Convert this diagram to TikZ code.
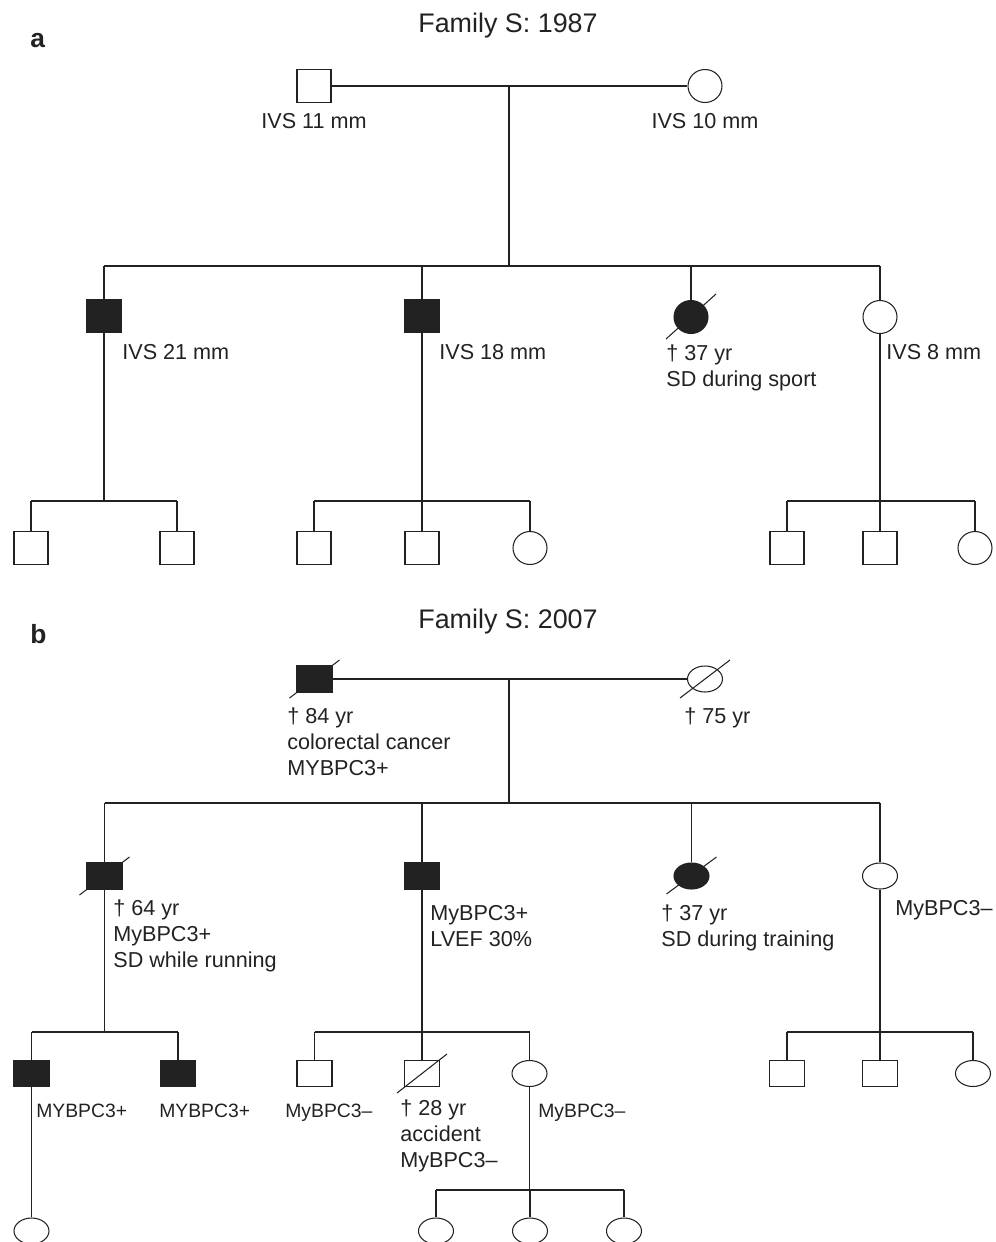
\documentclass[tikz,border=0pt]{standalone}
\usepackage{fontspec}
\setmainfont{Liberation Sans}
\usetikzlibrary{shapes.geometric}
\definecolor{ink}{RGB}{34,34,34}

\begin{document}
\begin{tikzpicture}[x=0.02cm,y=-0.02cm,
	pline/.style={draw=ink,line width=0.6pt},
	males/.style={rectangle,draw=ink,line width=0.6pt,inner sep=0pt,minimum width=0.68cm,minimum height=0.66cm},
	females/.style={ellipse,draw=ink,line width=0.6pt,inner sep=0pt,minimum width=0.68cm,minimum height=0.66cm},
	flat/.style={minimum width=0.70cm,minimum height=0.52cm},
	affected/.style={fill=ink},
	lbl/.style={anchor=base west,inner sep=0pt,text=ink,align=left,font=\fontsize{12.3}{14.8}\selectfont},
	small/.style={font=\fontsize{11}{13}\selectfont},
	title/.style={anchor=base,inner sep=0pt,text=ink,font=\fontsize{15.3}{18}\selectfont},
	panel/.style={anchor=base west,inner sep=0pt,text=ink,font=\fontsize{15}{18}\selectfont\bfseries}]
	\useasboundingbox (0,0) rectangle (996,1242);
	\clip (0,0) rectangle (996,1242);
	
	% ---- panel a : 1987
	\node[panel] (labA) at (30,47) {a};
	\node[title] (titA) at (508,32) {Family S: 1987};
	
	\node[males] (aF) at (314,86) {};
	\node[females] (aM) at (705,86) {};
	\node[lbl,anchor=base] (aFl) at (314,128) {IVS 11 mm};
	\node[lbl,anchor=base] (aMl) at (705,128) {IVS 10 mm};
	\coordinate (aC) at (509,86);
	\coordinate (aS) at (509,266);
	\draw[pline] (aF) -- (aM);
	\draw[pline] (aC) -- (aS);
	
	\node[males,affected] (aII1) at (104,316) {};
	\node[males,affected] (aII2) at (422,316) {};
	\node[females,affected] (aII3) at (691,317) {};
	\node[females] (aII4) at (880,317) {};
	\draw[pline] (aII1 |- aS) -- (aII4 |- aS);
	\foreach \n in {aII1,aII2,aII3,aII4}{% drop lines to the sibs
		\draw[pline] (\n |- aS) -- (\n);
	}
	\draw[pline] ([shift={(-25,22)}]aII3.center) -- ([shift={(25,-23)}]aII3.center);
	% multi-line labels sit on the baseline of their last line
	\node[lbl] (aII1l) at (122,359) {IVS 21 mm};
	\node[lbl] (aII2l) at (439,359) {IVS 18 mm};
	\node[lbl] (aII3l) at (666,386) {† 37 yr\\SD during sport};
	\node[lbl] (aII4l) at (886,359) {IVS 8 mm};
	
	\coordinate (aS1) at (104,501);
	\coordinate (aS2) at (422,501);
	\coordinate (aS4) at (880,501);
	\draw[pline] (aII1) -- (aS1);
	\draw[pline] (aII2) -- (aS2);
	\draw[pline] (aII4) -- (aS4);
	
	\node[males] (aIII1) at (31,548) {};
	\node[males] (aIII2) at (177,548) {};
	\node[males] (aIII3) at (314,548) {};
	\node[males] (aIII4) at (422,548) {};
	\node[females] (aIII5) at (530,548) {};
	\node[males] (aIII6) at (787,548) {};
	\node[males] (aIII7) at (880,548) {};
	\node[females] (aIII8) at (975,548) {};
	\draw[pline] (aIII1 |- aS1) -- (aIII2 |- aS1);
	\draw[pline] (aIII3 |- aS2) -- (aIII5 |- aS2);
	\draw[pline] (aIII6 |- aS4) -- (aIII8 |- aS4);
	\foreach \n in {aIII1,aIII2,aIII3,aIII4,aIII5,aIII6,aIII7,aIII8}{%
		\draw[pline] (\n |- aS1) -- (\n);
	}
	
	% ---- panel b : 2007
	\node[panel] (labB) at (30,643) {b};
	\node[title] (titB) at (508,628) {Family S: 2007};
	
	\node[males,flat,affected] (bF) at (314.5,679) {};
	\node[females,flat] (bM) at (705,679) {};
	\draw[pline] ([shift={(-25,19)}]bF.center) -- ([shift={(25,-19)}]bF.center);
	\draw[pline] ([shift={(-25,19)}]bM.center) -- ([shift={(25,-19)}]bM.center);
	\node[lbl] (bFl) at (287,775) {† 84 yr\\colorectal cancer\\MYBPC3+};
	\node[lbl] (bMl) at (684,723) {† 75 yr};
	\coordinate (bC) at (509,679);
	\coordinate (bS) at (509,803);
	\draw[pline] (bF) -- (bM);
	\draw[pline] (bC) -- (bS);
	
	\node[males,flat,affected] (bII1) at (104.5,876) {};
	\node[males,flat,affected] (bII2) at (422,876) {};
	\node[females,flat,affected] (bII3) at (691.5,876) {};
	\node[females,flat] (bII4) at (880,876) {};
	\draw[pline] (bII1 |- bS) -- (bII4 |- bS);
	\foreach \n in {bII1,bII2,bII3,bII4}{%
		\draw[pline] (\n |- bS) -- (\n);
	}
	\draw[pline] ([shift={(-25,19)}]bII1.center) -- ([shift={(25,-19)}]bII1.center);
	\draw[pline] ([shift={(-25,18)}]bII3.center) -- ([shift={(25,-19)}]bII3.center);
	\node[lbl] (bII1l) at (113,967) {† 64 yr\\MyBPC3+\\SD while running};
	\node[lbl] (bII2l) at (430,946) {MyBPC3+\\LVEF 30\%};
	\node[lbl] (bII3l) at (661,946) {† 37 yr\\SD during training};
	\node[lbl] (bII4l) at (895,915) {MyBPC3–};
	
	\coordinate (bS1) at (104.5,1032);
	\coordinate (bS2) at (422,1032);
	\coordinate (bS4) at (880,1032);
	\draw[pline] (bII1) -- (bS1);
	\draw[pline] (bII2) -- (bS2);
	\draw[pline] (bII4) -- (bS4);
	
	\node[males,flat,affected] (bIII1) at (31.5,1073.5) {};
	\node[males,flat,affected] (bIII2) at (178,1073.5) {};
	\node[males,flat] (bIII3) at (314.5,1073.5) {};
	\node[males,flat] (bIII4) at (422,1073.5) {};
	\node[females,flat] (bIII5) at (529.5,1073.5) {};
	\node[males,flat] (bIII6) at (787,1073.5) {};
	\node[males,flat] (bIII7) at (880,1073.5) {};
	\node[females,flat] (bIII8) at (973,1073.5) {};
	\draw[pline] (bIII1 |- bS1) -- (bIII2 |- bS1);
	\draw[pline] (bIII3 |- bS2) -- (bIII5 |- bS2);
	\draw[pline] (bIII6 |- bS4) -- (bIII8 |- bS4);
	\foreach \n in {bIII1,bIII2,bIII3,bIII4,bIII5,bIII6,bIII7,bIII8}{%
		\draw[pline] (\n |- bS1) -- (\n);
	}
	\draw[pline] ([shift={(-25,19.5)}]bIII4.center) -- ([shift={(25,-19.5)}]bIII4.center);
	\node[lbl,small] (bIII1l) at (36,1117) {MYBPC3+};
	\node[lbl,small] (bIII2l) at (159,1117) {MYBPC3+};
	\node[lbl,small] (bIII3l) at (285,1117) {MyBPC3–};
	\node[lbl] (bIII4l) at (400,1167) {† 28 yr\\accident\\MyBPC3–};
	\node[lbl,small] (bIII5l) at (538,1117) {MyBPC3–};
	
	% ---- fourth generation (cut by the frame)
	\node[females,flat] (bIV1) at (31.5,1231) {};
	\node[females,flat] (bIV2) at (436,1231) {};
	\node[females,flat] (bIV3) at (530,1231) {};
	\node[females,flat] (bIV4) at (624,1231) {};
	\coordinate (bS5) at (529.5,1190);
	\draw[pline] (bIII1) -- (bIV1);
	\draw[pline] (bIII5) -- (bS5);
	\draw[pline] (bIV2 |- bS5) -- (bIV4 |- bS5);
	\foreach \n in {bIV2,bIV3,bIV4}{%
		\draw[pline] (\n |- bS5) -- (\n);
	}
\end{tikzpicture}
\end{document}
